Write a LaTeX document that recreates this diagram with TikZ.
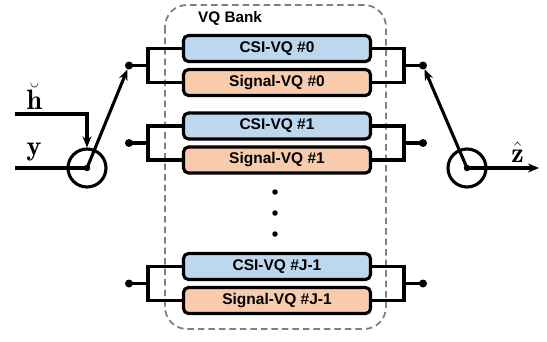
\documentclass[tikz,border=0pt]{standalone}
\usepackage{fontspec}
\setsansfont{Liberation Sans}
\usetikzlibrary{arrows.meta}
\definecolor{csiblue}{HTML}{BDD7EE}
\definecolor{sigorange}{HTML}{F8CBAD}
\definecolor{bankgray}{HTML}{808080}
\begin{document}
\begin{tikzpicture}[x=1pt,y=-1pt,
  wire/.style={line width=3.1pt},
  vq/.style={draw, line width=3.1pt, rounded corners=5pt, minimum width=187pt, minimum height=26pt, inner sep=0pt, font=\sffamily\bfseries\fontsize{15.5}{15.5}\selectfont},
  csi/.style={vq, fill=csiblue},
  sig/.style={vq, fill=sigorange},
  jdot/.style={circle, fill, inner sep=0pt, minimum size=8pt},
  vdot/.style={circle, fill, inner sep=0pt, minimum size=5.5pt},
  sumc/.style={circle, draw, line width=3.1pt, minimum size=38pt, inner sep=0pt},
  arr/.style={wire, -{Stealth[length=11pt,width=9pt]}},
  lbl/.style={font=\huge, inner sep=0pt, anchor=base}
]
\useasboundingbox (0,0) rectangle (547,341);

% VQ bank
\draw[bankgray, line width=1.8pt, dash pattern=on 6.5pt off 4pt, rounded corners=22pt] (165,5) rectangle (386,329);
\node[font=\sffamily\bfseries\fontsize{15.3}{15.3}\selectfont, anchor=west, inner sep=0pt] (bank) at (198,18.5) {VQ Bank};

% blocks
\node[csi] (c0) at (277,48.5) {CSI-VQ \#0};
\node[sig] (s0) at (277,82.5) {Signal-VQ \#0};
\node[csi] (c1) at (277,126) {CSI-VQ \#1};
\node[sig] (s1) at (277,160) {Signal-VQ \#1};
\node[csi] (cj) at (277,266.5) {CSI-VQ \#J-1};
\node[sig] (sj) at (277,300.5) {Signal-VQ \#J-1};

% vertical dots
\node[vdot] (v1) at (275,192) {};
\node[vdot] (v2) at (275,213) {};
\node[vdot] (v3) at (275,234) {};

% bracket junctions
\coordinate (l0) at (148,65.5);
\coordinate (l1) at (148,143);
\coordinate (lj) at (148,283.5);
\coordinate (r0) at (404,65.5);
\coordinate (r1) at (404,143);
\coordinate (rj) at (404,283.5);
\node[jdot] (dl0) at (129,65.5) {};
\node[jdot] (dl1) at (129,143) {};
\node[jdot] (dlj) at (129,283.5) {};
\node[jdot] (dr0) at (423,65.5) {};
\node[jdot] (dr1) at (423,143) {};
\node[jdot] (drj) at (423,283.5) {};

\draw[wire] (c0.west) -| (l0) |- (s0.west);
\draw[wire] (c1.west) -| (l1) |- (s1.west);
\draw[wire] (cj.west) -| (lj) |- (sj.west);
\draw[wire] (c0.east) -| (r0) |- (s0.east);
\draw[wire] (c1.east) -| (r1) |- (s1.east);
\draw[wire] (cj.east) -| (rj) |- (sj.east);
\draw[wire] (l0) -- (dl0.center);
\draw[wire] (l1) -- (dl1.center);
\draw[wire] (lj) -- (dlj.center);
\draw[wire] (r0) -- (dr0.center);
\draw[wire] (r1) -- (dr1.center);
\draw[wire] (rj) -- (drj.center);

% switches
\node[sumc] (lc) at (87,168) {};
\node[sumc] (rc) at (467,168) {};
\node[jdot, minimum size=6.5pt] (lcc) at (87,168) {};
\node[jdot, minimum size=6.5pt] (rcc) at (467,168) {};

\coordinate (hin) at (15,114);
\coordinate (yin) at (15,168);
\coordinate (zout) at (539,168);

\draw[wire] (yin) -- (lcc.center);
\draw[arr] (hin) -| (lc.north);
\draw[arr] (lcc.center) -- (dl0);
\draw[arr] (rcc.center) -- (dr0);
\draw[arr] (rcc.center) -- (zout);

% labels
\node[lbl] (hl) at (34.5,109.5) {\scalebox{1.35}{$\breve{\mathbf{h}}$}};
\node[lbl] (yl) at (34,155) {\scalebox{1.35}{$\mathbf{y}$}};
\node[lbl] (zl) at (517.5,162) {\scalebox{1.35}{$\hat{\mathbf{z}}$}};
\end{tikzpicture}
\end{document}
